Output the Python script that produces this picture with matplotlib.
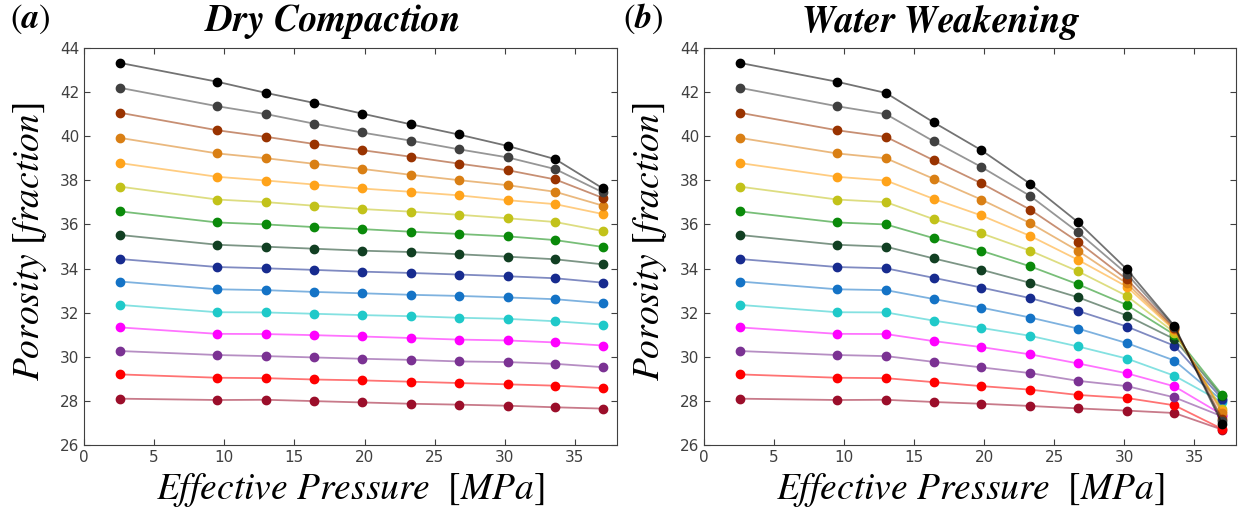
import numpy as np
import matplotlib.pyplot as plt

plt.rcParams['mathtext.fontset'] = 'custom'
plt.rcParams['mathtext.rm'] = 'STIXGeneral'
plt.rcParams['mathtext.it'] = 'STIXGeneral:italic'
plt.rcParams['mathtext.bf'] = 'STIXGeneral:italic:bold'

# effective pressure steps [MPa]
pressure = [2.6, 9.5, 13.0, 16.4, 19.8, 23.3, 26.7, 30.2, 33.6, 37.0]

colors = ['#000000', '#404040', '#993300', '#d97f14', '#ffa31a', '#c2c21a', '#0a8a0a',
          '#113f22', '#172b8f', '#1473c6', '#1fc9c9', '#ff00ff', '#7b3293', '#ff0000', '#9b0e2a']

# porosity [%] per initial porosity curve, top to bottom
dry = [
    [43.32, 42.47, 41.96, 41.51, 41.03, 40.54, 40.08, 39.56, 38.96, 37.63],
    [42.19, 41.36, 41.00, 40.57, 40.17, 39.80, 39.41, 39.04, 38.51, 37.45],
    [41.06, 40.27, 39.97, 39.65, 39.37, 39.07, 38.76, 38.46, 38.04, 37.20],
    [39.92, 39.22, 39.00, 38.75, 38.52, 38.25, 38.01, 37.78, 37.48, 36.85],
    [38.78, 38.16, 37.99, 37.81, 37.63, 37.48, 37.32, 37.10, 36.92, 36.47],
    [37.71, 37.13, 37.01, 36.85, 36.70, 36.58, 36.44, 36.28, 36.11, 35.70],
    [36.59, 36.09, 36.00, 35.88, 35.79, 35.67, 35.57, 35.46, 35.29, 34.98],
    [35.52, 35.08, 34.99, 34.90, 34.81, 34.75, 34.65, 34.54, 34.42, 34.19],
    [34.43, 34.07, 34.01, 33.94, 33.86, 33.80, 33.73, 33.65, 33.56, 33.36],
    [33.41, 33.06, 33.02, 32.94, 32.88, 32.81, 32.76, 32.69, 32.61, 32.43],
    [32.35, 32.02, 32.01, 31.95, 31.89, 31.84, 31.77, 31.72, 31.61, 31.46],
    [31.33, 31.04, 31.03, 30.98, 30.92, 30.85, 30.78, 30.74, 30.65, 30.51],
    [30.26, 30.08, 30.03, 29.97, 29.91, 29.86, 29.79, 29.76, 29.68, 29.53],
    [29.20, 29.05, 29.03, 28.97, 28.93, 28.87, 28.81, 28.75, 28.69, 28.58],
    [28.10, 28.04, 28.05, 27.99, 27.93, 27.87, 27.83, 27.78, 27.71, 27.65],
]

wet = [
    [43.32, 42.47, 41.96, 40.63, 39.37, 37.84, 36.11, 33.97, 31.40, 26.97],
    [42.19, 41.36, 41.00, 39.77, 38.61, 37.29, 35.66, 33.76, 31.35, 27.10],
    [41.06, 40.27, 39.97, 38.91, 37.87, 36.67, 35.22, 33.51, 31.30, 27.20],
    [39.92, 39.22, 39.00, 38.07, 37.13, 36.06, 34.81, 33.33, 31.25, 27.45],
    [38.78, 38.16, 37.99, 37.16, 36.41, 35.48, 34.40, 33.18, 31.20, 27.55],
    [37.71, 37.13, 37.01, 36.24, 35.60, 34.81, 33.88, 32.76, 31.10, 27.63],
    [36.59, 36.09, 36.00, 35.38, 34.81, 34.10, 33.29, 32.35, 31.00, 28.28],
    [35.52, 35.08, 34.99, 34.46, 33.95, 33.35, 32.70, 31.87, 30.80, 28.20],
    [34.43, 34.07, 34.01, 33.58, 33.14, 32.66, 32.08, 31.37, 30.50, 28.10],
    [33.41, 33.06, 33.02, 32.62, 32.23, 31.78, 31.28, 30.62, 29.83, 28.02],
    [32.35, 32.02, 32.01, 31.64, 31.31, 30.95, 30.47, 29.92, 29.14, 27.95],
    [31.33, 31.04, 31.03, 30.71, 30.44, 30.11, 29.70, 29.25, 28.66, 27.38],
    [30.26, 30.08, 30.03, 29.77, 29.52, 29.26, 28.91, 28.67, 28.16, 27.30],
    [29.20, 29.05, 29.03, 28.85, 28.67, 28.51, 28.27, 28.13, 27.80, 26.73],
    [28.10, 28.04, 28.05, 27.95, 27.87, 27.77, 27.66, 27.56, 27.45, 26.70],
]

W, H = 1239, 519
fig = plt.figure(figsize=(W / 100, H / 100), dpi=100)
ax1 = fig.add_axes([84 / W, 74 / H, 533 / W, 397 / H])
ax2 = fig.add_axes([704 / W, 74 / H, 532 / W, 397 / H])

for ax, data in [(ax1, dry), (ax2, wet)]:
    # draw bottom curve first so the black one ends on top
    for series, c in reversed(list(zip(data, colors))):
        ax.plot(pressure, series, '-', color=c, alpha=0.55, lw=1.3)
        ax.plot(pressure, series, 'o', color=c, ms=6, mec=c)
    ax.set_xlim(0, 38)
    ax.set_ylim(26, 44)
    ax.set_xticks(np.arange(0, 36, 5))
    ax.set_yticks(np.arange(26, 45, 2))
    ax.tick_params(direction='in', top=True, right=True, labelsize=11,
                   labelcolor='#404040', color='#404040', length=4)
    for s in ax.spines.values():
        s.set_color('#404040')

# axis labels
for xc, yc in [(350, 30), (970, 650)]:
    fig.text(xc / W, 1 - 490 / H, r'$Effective\ Pressure\ \ [MPa]$', fontsize=27, ha='center', va='center')
    fig.text(yc / W, 1 - 242 / H, r'$Porosity\ [fraction]$', fontsize=27, ha='center', va='center', rotation=90)

fig.text(332 / W, 1 - 22 / H, r'$\mathbf{Dry\ Compaction}$', fontsize=27, ha='center', va='center')
fig.text(940 / W, 1 - 22 / H, r'$\mathbf{Water\ Weakening}$', fontsize=27, ha='center', va='center')
fig.text(30 / W, 1 - 19 / H, r'$(\mathbf{a})$', fontsize=25, ha='center', va='center')
fig.text(643 / W, 1 - 19 / H, r'$(\mathbf{b})$', fontsize=25, ha='center', va='center')

fig.savefig('out.png', dpi=100)
